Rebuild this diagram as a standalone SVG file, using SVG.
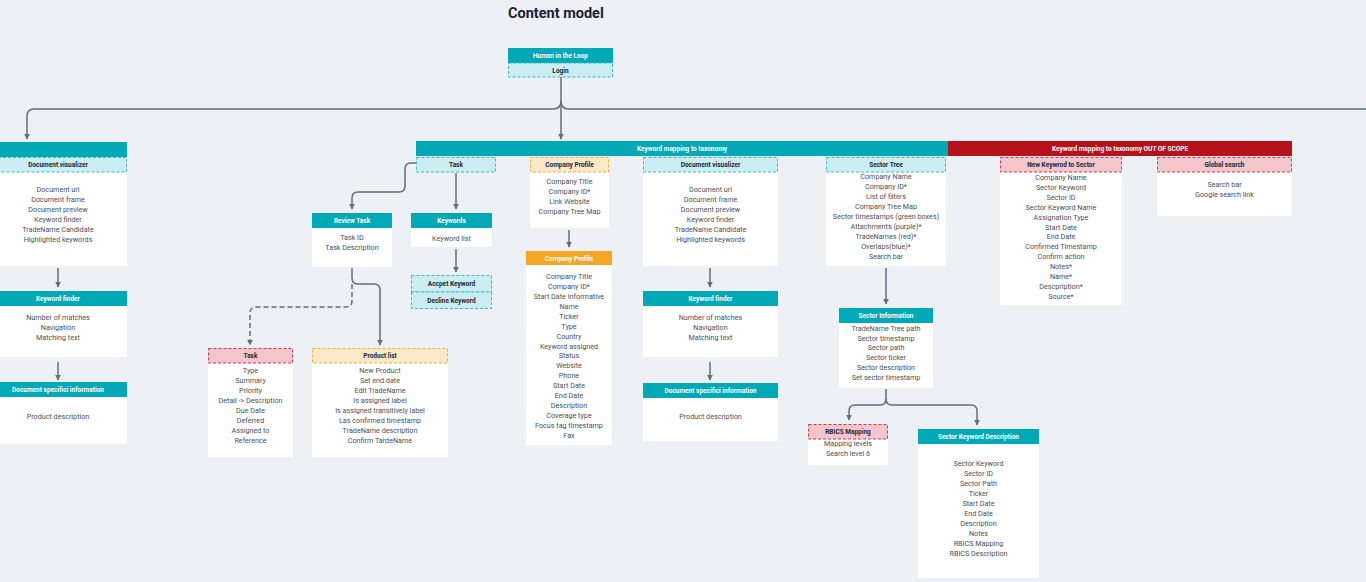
<svg xmlns="http://www.w3.org/2000/svg" width="1366" height="582" viewBox="0 0 1366 582">
<defs>
<marker id="ah" viewBox="0 0 10 10" refX="9" refY="5" markerWidth="4" markerHeight="4" orient="auto"><path d="M0,0 L10,5 L0,10 z" fill="#5f6e7d"/></marker>
<style>
.bg{fill:#edf1f5}
.hdr{fill:#00a9b5}
.red{fill:#b5121b}
.org{fill:#f5a623}
.body{fill:#ffffff}
.dc{fill:#c9edf0;stroke:#3fb8c2;stroke-width:1;stroke-dasharray:3 2}
.dp{fill:#f2c6cb;stroke:#d2394f;stroke-width:1;stroke-dasharray:3 2}
.do{fill:#fde9c8;stroke:#f5b041;stroke-width:1;stroke-dasharray:3 2}
.ht{font-family:Roboto,"Liberation Sans",sans-serif;font-size:6.5px;font-weight:bold;fill:#ffffff;text-anchor:middle}
.lt{font-family:Roboto,"Liberation Sans",sans-serif;font-size:6.5px;font-weight:bold;fill:#1e2533;text-anchor:middle}
.it{font-family:Roboto,"Liberation Sans",sans-serif;font-size:7.2px;fill:#4a4f57;text-anchor:middle}
.title{font-family:Roboto,"Liberation Sans",sans-serif;font-size:14.5px;font-weight:bold;fill:#1b2233}
.c{fill:none;stroke:#5f6e7d;stroke-width:1.5}
.cd{fill:none;stroke:#5f6e7d;stroke-width:1.5;stroke-dasharray:5 3}
</style>
</defs>
<rect class="bg" x="0" y="0" width="1366" height="582"/>
<text class="title" x="508" y="18">Content model</text>

<g id="connectors">
<path class="c" d="M561,77 V139" marker-end="url(#ah)"/>
<path class="c" d="M561,101 Q561,109 553,109 H34 Q27,109 27,116 V139" marker-end="url(#ah)"/>
<path class="c" d="M561,101 Q561,109 569,109 H1366"/>
<path class="c" d="M58,268 V287" marker-end="url(#ah)"/>
<path class="c" d="M58,362 V380" marker-end="url(#ah)"/>
<path class="c" d="M416,163 H411 Q405,163 405,169 V186 Q405,192 399,192 H358 Q352,192 352,198 V209" marker-end="url(#ah)"/>
<path class="c" d="M456,173 V209" marker-end="url(#ah)"/>
<path class="c" d="M456,249 V272" marker-end="url(#ah)"/>
<path class="c" d="M352,268 V278 Q352,284 358,284 H374 Q380,284 380,290 V345" marker-end="url(#ah)"/>
<path class="cd" d="M352,284 V301 Q352,307 346,307 H256 Q250,307 250,313 V345" marker-end="url(#ah)"/>
<path class="c" d="M569,230 V247" marker-end="url(#ah)"/>
<path class="c" d="M710,268 V287" marker-end="url(#ah)"/>
<path class="c" d="M710,362 V380" marker-end="url(#ah)"/>
<path class="c" d="M886,268 V304" marker-end="url(#ah)"/>
<path class="c" d="M886,389 V399 Q886,405 880,405 H855 Q849,405 849,411 V420" marker-end="url(#ah)"/>
<path class="c" d="M886,399 Q886,405 892,405 H971 Q977,405 977,411 V425" marker-end="url(#ah)"/>
</g>

<g id="human-loop">
<rect class="hdr" x="508" y="48" width="105" height="15"/>
<text class="ht" x="560.5" y="58">Human in the Loop</text>
<rect class="dc" x="508.5" y="63" width="104" height="14"/>
<text class="lt" x="560.5" y="72.5">Login</text>
</g>

<g id="left-bar"><rect class="hdr" x="0" y="142" width="127" height="15"/></g>
<g id="doc-vis-left">
<rect class="body" x="0" y="172" width="127" height="94"/>
<rect class="dc" x="-2" y="157.5" width="128.5" height="14.5"/>
<text class="lt" x="58" y="167">Document visualizer</text>
<text class="it" x="58" y="191.5">Document url</text>
<text class="it" x="58" y="201.5">Document frame</text>
<text class="it" x="58" y="211.5">Document preview</text>
<text class="it" x="58" y="221.5">Keyword finder</text>
<text class="it" x="58" y="231.5">TradeName Candidate</text>
<text class="it" x="58" y="241.5">Highlighted keywords</text>
</g>
<g id="kw-finder-left">
<rect class="hdr" x="0" y="291" width="127" height="15"/>
<rect class="body" x="0" y="306" width="127" height="51"/>
<text class="ht" x="58" y="301">Keyword finder</text>
<text class="it" x="58" y="319.5">Number of matches</text>
<text class="it" x="58" y="329.5">Navigation</text>
<text class="it" x="58" y="339.5">Matching text</text>
</g>
<g id="doc-spec-left">
<rect class="hdr" x="0" y="382" width="127" height="15"/>
<rect class="body" x="0" y="397" width="127" height="47"/>
<text class="ht" x="58" y="392">Document specifici information</text>
<text class="it" x="58" y="418.5">Product description</text>
</g>

<g id="kw-mapping">
<rect class="hdr" x="416" y="141" width="532" height="15"/>
<text class="ht" x="682" y="151">Keyword mapping to taxonomy</text>
</g>
<g id="kw-mapping-oos">
<rect class="red" x="948" y="141" width="344" height="15"/>
<text class="ht" x="1120" y="151">Keyword mapping to taxonomy OUT OF SCOPE</text>
</g>

<g id="task-top">
<rect class="dc" x="416.5" y="157.5" width="79" height="14.5"/>
<text class="lt" x="456" y="167">Task</text>
</g>
<g id="review-task">
<rect class="hdr" x="312" y="213" width="80" height="15"/>
<rect class="body" x="312" y="228" width="80" height="39"/>
<text class="ht" x="352" y="223">Review Task</text>
<text class="it" x="352" y="239.5">Task ID</text>
<text class="it" x="352" y="249.5">Task Description</text>
</g>
<g id="keywords">
<rect class="hdr" x="411" y="213" width="81" height="15"/>
<rect class="body" x="411" y="228" width="81" height="19"/>
<text class="ht" x="451.5" y="223">Keywords</text>
<text class="it" x="451.5" y="240.5">Keyword list</text>
</g>
<g id="accept-kw">
<rect class="dc" x="411.5" y="275.5" width="80" height="16.5"/>
<text class="lt" x="451.5" y="286">Accpet Keyword</text>
</g>
<g id="decline-kw">
<rect class="dc" x="411.5" y="292" width="80" height="16.5"/>
<text class="lt" x="451.5" y="303">Decline Keyword</text>
</g>
<g id="task">
<rect class="body" x="208" y="363" width="85" height="94"/>
<rect class="dp" x="208.5" y="348.5" width="84" height="14.5"/>
<text class="lt" x="250.5" y="358">Task</text>
<text class="it" x="250.5" y="372.5">Type</text>
<text class="it" x="250.5" y="382.5">Summary</text>
<text class="it" x="250.5" y="392.5">Priority</text>
<text class="it" x="250.5" y="402.5">Detail -&gt; Description</text>
<text class="it" x="250.5" y="412.5">Due Date</text>
<text class="it" x="250.5" y="422.5">Deferred</text>
<text class="it" x="250.5" y="432.5">Assigned to</text>
<text class="it" x="250.5" y="442.5">Reference</text>
</g>
<g id="product-list">
<rect class="body" x="312" y="363" width="136" height="94"/>
<rect class="do" x="312.5" y="348.5" width="135" height="14.5"/>
<text class="lt" x="380" y="358">Product list</text>
<text class="it" x="380" y="372.5">New Product</text>
<text class="it" x="380" y="382.5">Set end date</text>
<text class="it" x="380" y="392.5">Edit TradeName</text>
<text class="it" x="380" y="402.5">Is assigned label</text>
<text class="it" x="380" y="412.5">Is assigned transitively label</text>
<text class="it" x="380" y="422.5">Las confirmed timestamp</text>
<text class="it" x="380" y="432.5">TradeName description</text>
<text class="it" x="380" y="442.5">Confirm TardeName</text>
</g>

<g id="company-profile-top">
<rect class="body" x="530" y="172" width="79" height="56"/>
<rect class="do" x="530.5" y="157.5" width="78" height="14.5"/>
<text class="lt" x="569.5" y="167">Company Profile</text>
<text class="it" x="569.5" y="183.5">Company Title</text>
<text class="it" x="569.5" y="193.5">Company ID*</text>
<text class="it" x="569.5" y="203.5">Link Website</text>
<text class="it" x="569.5" y="213.5">Company Tree Map</text>
</g>
<g id="company-profile">
<rect class="org" x="526" y="251" width="86" height="14"/>
<rect class="body" x="526" y="265" width="86" height="180"/>
<text class="ht" x="569" y="260.5">Company Profile</text>
<text class="it" x="569" y="278.5">Company Title</text>
<text class="it" x="569" y="288.5">Company ID*</text>
<text class="it" x="569" y="298.5">Start Date Informative</text>
<text class="it" x="569" y="308.5">Name</text>
<text class="it" x="569" y="318.5">Ticker</text>
<text class="it" x="569" y="328.5">Type</text>
<text class="it" x="569" y="338.5">Country</text>
<text class="it" x="569" y="348.5">Keyword assigned</text>
<text class="it" x="569" y="358">Status</text>
<text class="it" x="569" y="368">Website</text>
<text class="it" x="569" y="378">Phone</text>
<text class="it" x="569" y="388">Start Date</text>
<text class="it" x="569" y="398">End Date</text>
<text class="it" x="569" y="408">Description</text>
<text class="it" x="569" y="418">Coverage type</text>
<text class="it" x="569" y="428">Focus tag timestamp</text>
<text class="it" x="569" y="438">Fax</text>
</g>

<g id="doc-vis-mid">
<rect class="body" x="643" y="172" width="135" height="94"/>
<rect class="dc" x="643.5" y="157.5" width="134" height="14.5"/>
<text class="lt" x="710.5" y="167">Document visualizer</text>
<text class="it" x="710.5" y="191.5">Document url</text>
<text class="it" x="710.5" y="201.5">Document frame</text>
<text class="it" x="710.5" y="211.5">Document preview</text>
<text class="it" x="710.5" y="221.5">Keyword finder</text>
<text class="it" x="710.5" y="231.5">TradeName Candidate</text>
<text class="it" x="710.5" y="241.5">Highlighted keywords</text>
</g>
<g id="kw-finder-mid">
<rect class="hdr" x="643" y="291" width="135" height="15"/>
<rect class="body" x="643" y="306" width="135" height="51"/>
<text class="ht" x="710.5" y="301">Keyword finder</text>
<text class="it" x="710.5" y="319.5">Number of matches</text>
<text class="it" x="710.5" y="329.5">Navigation</text>
<text class="it" x="710.5" y="339.5">Matching text</text>
</g>
<g id="doc-spec-mid">
<rect class="hdr" x="643" y="383" width="135" height="15"/>
<rect class="body" x="643" y="398" width="135" height="43"/>
<text class="ht" x="710.5" y="393">Document specifici information</text>
<text class="it" x="710.5" y="418.5">Product description</text>
</g>

<g id="sector-tree">
<rect class="body" x="826" y="172" width="120" height="94"/>
<rect class="dc" x="826.5" y="157.5" width="119" height="14.5"/>
<text class="lt" x="886" y="167">Sector Tree</text>
<text class="it" x="886" y="178.5">Company Name</text>
<text class="it" x="886" y="188.5">Company ID*</text>
<text class="it" x="886" y="198.5">List of filters</text>
<text class="it" x="886" y="208.5">Company Tree Map</text>
<text class="it" x="886" y="218.5">Sector timestamps (green boxes)</text>
<text class="it" x="886" y="228.5">Attachments (purple)*</text>
<text class="it" x="886" y="238.5">TradeNames (red)*</text>
<text class="it" x="886" y="248.5">Overlaps(blue)*</text>
<text class="it" x="886" y="258.5">Search bar</text>
</g>
<g id="sector-info">
<rect class="hdr" x="839" y="308" width="94" height="15"/>
<rect class="body" x="839" y="323" width="94" height="65"/>
<text class="ht" x="886" y="318">Sector Information</text>
<text class="it" x="886" y="330.5">TradeName Tree path</text>
<text class="it" x="886" y="340.5">Sector timestamp</text>
<text class="it" x="886" y="350">Sector path</text>
<text class="it" x="886" y="360">Sector ticker</text>
<text class="it" x="886" y="370">Sector description</text>
<text class="it" x="886" y="380">Set sector timestamp</text>
</g>
<g id="rbics-mapping">
<rect class="body" x="808" y="439" width="80" height="26"/>
<rect class="dp" x="808.5" y="424.5" width="79" height="14.5"/>
<text class="lt" x="848" y="434">RBICS Mapping</text>
<text class="it" x="848" y="445.5">Mapping levels</text>
<text class="it" x="848" y="455.5">Search level 6</text>
</g>
<g id="sector-kw-desc">
<rect class="hdr" x="918" y="429" width="121" height="15"/>
<rect class="body" x="918" y="444" width="121" height="134"/>
<text class="ht" x="978.5" y="439">Sector Keyword Description</text>
<text class="it" x="978.5" y="465.5">Sector Keyword</text>
<text class="it" x="978.5" y="475.5">Sector ID</text>
<text class="it" x="978.5" y="485.5">Sector Path</text>
<text class="it" x="978.5" y="495.5">Ticker</text>
<text class="it" x="978.5" y="505.5">Start Date</text>
<text class="it" x="978.5" y="515.5">End Date</text>
<text class="it" x="978.5" y="525.5">Description</text>
<text class="it" x="978.5" y="535.5">Notes</text>
<text class="it" x="978.5" y="545.5">RBICS Mapping</text>
<text class="it" x="978.5" y="555.5">RBICS Description</text>
</g>

<g id="new-kw-sector">
<rect class="body" x="1000" y="172" width="122" height="133"/>
<rect class="dp" x="1000.5" y="157.5" width="121" height="14.5"/>
<text class="lt" x="1061" y="167">New Keywrod to Sector</text>
<text class="it" x="1061" y="179.5">Company Name</text>
<text class="it" x="1061" y="189.5">Sector Keyword</text>
<text class="it" x="1061" y="199.5">Sector ID</text>
<text class="it" x="1061" y="209.5">Sector Keyword Name</text>
<text class="it" x="1061" y="219.5">Assignation Type</text>
<text class="it" x="1061" y="229.5">Start Date</text>
<text class="it" x="1061" y="239">End Date</text>
<text class="it" x="1061" y="249">Confirmed Timestamp</text>
<text class="it" x="1061" y="259">Confirm action</text>
<text class="it" x="1061" y="269">Notes*</text>
<text class="it" x="1061" y="279">Name*</text>
<text class="it" x="1061" y="289">Descpription*</text>
<text class="it" x="1061" y="299">Source*</text>
</g>
<g id="global-search">
<rect class="body" x="1157" y="172" width="135" height="44"/>
<rect class="dp" x="1157.5" y="157.5" width="134" height="14.5"/>
<text class="lt" x="1224.5" y="167">Global search</text>
<text class="it" x="1224.5" y="186.5">Search bar</text>
<text class="it" x="1224.5" y="196.5">Google search link</text>
</g>
</svg>
